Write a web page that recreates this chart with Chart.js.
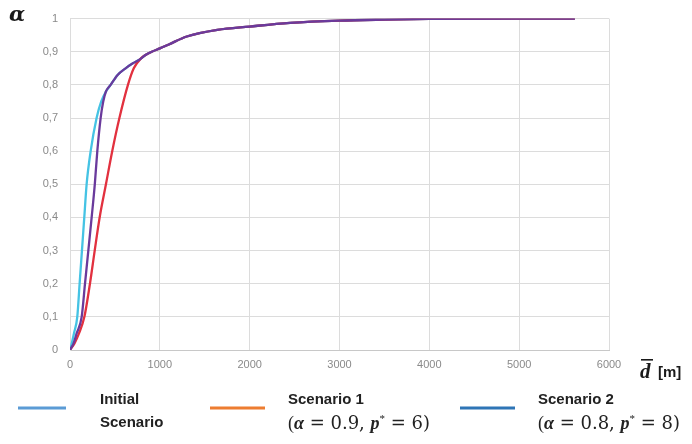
<!DOCTYPE html>
<html>
<head>
<meta charset="utf-8">
<script src="https://cdn.jsdelivr.net/npm/chart.js@4"></script>
<style>
  html, body { margin: 0; padding: 0; background: #ffffff; }
  canvas { display: block; }
</style>
</head>
<body>
<canvas id="chart" width="692" height="444"></canvas>
<script>
// DATA (distance in m, alpha)

const initialHeadD = [0, 20, 44, 81, 107, 133, 159, 185, 230, 296, 348];
const initialHeadA = [0, 0.02, 0.05, 0.1, 0.2, 0.3, 0.4, 0.5, 0.6, 0.7, 0.75];

const scenario2HeadD = [0, 40, 74, 130, 167, 204, 241, 276, 304, 341, 370];
const scenario2HeadA = [0, 0.02, 0.05, 0.1, 0.2, 0.3, 0.4, 0.5, 0.6, 0.7, 0.75];

// part shared by Initial and Scenario 2
const upperD = [400, 452, 530, 619, 700, 767];
const upperA = [0.78, 0.8, 0.83, 0.85, 0.865, 0.875];

const scenario1HeadD = [0, 50, 100, 160, 222, 275, 330, 400, 470, 550, 645, 710, 790];
const scenario1HeadA = [0, 0.02, 0.05, 0.1, 0.2, 0.3, 0.4, 0.5, 0.6, 0.7, 0.8, 0.85, 0.88];

// part shared by all three
const tailD = [840, 910, 1000, 1100, 1300, 1640, 2000, 2450, 3000, 3500, 4000, 5000, 5620];
const tailA = [0.89, 0.9, 0.91, 0.922, 0.946, 0.966, 0.976, 0.987, 0.994, 0.997, 0.999, 1, 1];

const seriesNames = ['Initial Scenario', 'Scenario 1', 'Scenario 2'];
const legendFirstLines = ['Initial', 'Scenario 1', 'Scenario 2'];
const legendSecondLines = [
  null,
  ['(', 'α', ' = 0.9, ', 'p', '*', ' = 6)'],
  ['(', 'α', ' = 0.8, ', 'p', '*', ' = 8)'],
];
const lineColors = ['#45c3e4', '#e2313f', '#6a3a9c'];
const legendColors = ['#5b9bd5', '#ed7d31', '#2e75b6'];

const xTickMin = 0;
const xTickMax = 6000;
const xTickStep = 1000;
const yTickMin = 0;
const yTickMax = 1;
const yTickStep = 0.1;

const toPoints = (ds, as) =>
  ds.map((d, i) => ({ x: d, y: as[i] }));

const initialPoints =
  toPoints(initialHeadD, initialHeadA)
    .concat(toPoints(upperD, upperA))
    .concat(toPoints(tailD, tailA));

const scenario2Points =
  toPoints(scenario2HeadD, scenario2HeadA)
    .concat(toPoints(upperD, upperA))
    .concat(toPoints(tailD, tailA));

const scenario1Points =
  toPoints(scenario1HeadD, scenario1HeadA)
    .concat(toPoints(tailD, tailA));

const makeSet = (idx, data, order) => ({
  label: seriesNames[idx],
  data,
  borderColor: lineColors[idx],
  backgroundColor: lineColors[idx],
  borderWidth: 2.3,
  pointRadius: 0,
  cubicInterpolationMode: 'monotone',
  fill: false,
  showLine: true,
  order,
});

// LEGEND + AXIS TITLES

const extras = {
  id: 'extras',
  afterDraw(chart) {
    const ctx = chart.ctx;
    const area = chart.chartArea;
    ctx.save();

    // alpha title
    ctx.fillStyle = '#1a1a1a';
    ctx.font = 'bold italic 21px "DejaVu Serif"';
    ctx.textBaseline = 'alphabetic';
    ctx.textAlign = 'left';
    ctx.fillText('α', 9, 21);

    // d-bar [m]
    const xTitleY = area.bottom + 28;
    ctx.font = 'bold italic 21px "Liberation Serif"';
    ctx.fillText('d', 640, xTitleY);
    ctx.fillRect(641, xTitleY - 19, 12, 1.6);
    ctx.font = 'bold 15px "Liberation Sans"';
    ctx.fillText('[m]', 658, xTitleY - 1);

    // legend
    const starts = [18, 210, 460];
    const lineLen = [48, 55, 55];
    const textGap = [34, 23, 23];
    const lineY = area.bottom + 58;
    for (let i = 0; i < 3; i++) {
      const x0 = starts[i];
      ctx.strokeStyle = legendColors[i];
      ctx.lineWidth = 3;
      ctx.beginPath();
      ctx.moveTo(x0, lineY);
      ctx.lineTo(x0 + lineLen[i], lineY);
      ctx.stroke();

      const tx = x0 + lineLen[i] + textGap[i];
      ctx.fillStyle = '#222222';
      ctx.font = 'bold 15px "Liberation Sans"';
      ctx.fillText(legendFirstLines[i], tx, lineY - 4);

      if (i === 0) {
        ctx.fillText('Scenario', tx, lineY + 19);
        continue;
      }

      let cx = tx;
      const parts = legendSecondLines[i];
      parts.forEach((p, k) => {
        let font = '18px "Liberation Serif"';
        let dy = 0;
        if (k === 1 || k === 3) font = 'italic bold 18px "Liberation Serif"';
        if (k === 4) {
          font = '11px "Liberation Serif"';
          dy = -7;
        }
        if (k === 2 || k === 5) font = '18px "DejaVu Serif"';
        ctx.font = font;
        ctx.fillText(p, cx, lineY + 21 + dy);
        cx += ctx.measureText(p).width;
      });
    }
    ctx.restore();
  },
};

new Chart(
  document.getElementById('chart'),
  {
    type: 'scatter',
    data: {
      datasets: [
        makeSet(0, initialPoints, 2),
        makeSet(1, scenario1Points, 1),
        makeSet(2, scenario2Points, 0),
      ],
    },
    options: {
      responsive: false,
      animation: false,
      devicePixelRatio: 1,
      layout: {
        padding: { left: 0, right: 83, top: 17, bottom: 64 },
      },
      plugins: {
        legend: { display: false },
        tooltip: { enabled: false },
      },
      scales: {
        x: {
          type: 'linear',
          min: xTickMin,
          max: xTickMax,
          afterFit(scale) { scale.height = 30; },
          ticks: {
            stepSize: xTickStep,
            color: '#8a8a8a',
            padding: 8,
            maxRotation: 0,
            font: { family: 'Liberation Sans', size: 11 },
            callback: (v) => String(v),
          },
          grid: {
            color: '#dcdcdc',
            lineWidth: 1,
            drawTicks: false,
          },
          border: { color: '#c8c8c8' },
        },
        y: {
          type: 'linear',
          min: yTickMin,
          max: yTickMax,
          afterFit(scale) { scale.width = 70; },
          ticks: {
            stepSize: yTickStep,
            color: '#8a8a8a',
            padding: 12,
            font: { family: 'Liberation Sans', size: 11 },
            callback: (v) => {
              const r = Math.round(v * 10) / 10;
              if (r === 0 || r === 1) return String(r);
              return r.toFixed(1).replace('.', ',');
            },
          },
          grid: {
            color: '#dcdcdc',
            lineWidth: 1,
            drawTicks: false,
          },
          border: { color: '#dcdcdc' },
        },
      },
    },
    plugins: [extras],
  }
);
</script>
</body>
</html>
